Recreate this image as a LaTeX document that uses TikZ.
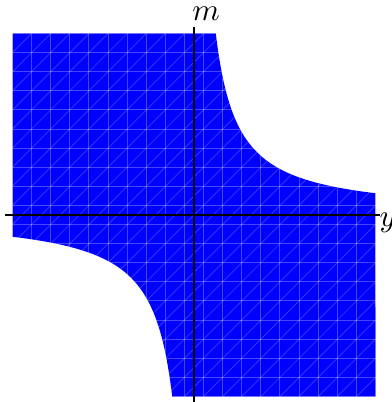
\documentclass[tikz,border=0pt]{standalone}
\begin{document}
\begin{tikzpicture}[x=63.9pt,y=63.9pt,
  meshline/.style={white,opacity=0.27,line width=0.35pt},
  diagline/.style={white,opacity=0.2,line width=0.3pt},
  fineline/.style={white,opacity=0.2,line width=0.3pt},
  axisline/.style={black,line width=0.45pt},
  axlabel/.style={anchor=base,inner sep=0pt,scale=1.1}]
\useasboundingbox (-1.0689,-1.0303) rectangle (1.0909,1.1846);
% filled region
\fill[blue] (-1,1) -- (0.12,1) -- plot[domain=0.12:1,samples=150] (\x,{0.12/\x}) -- (1,-1) -- (-0.12,-1) -- plot[domain=-0.12:-1,samples=150] (\x,{0.12/\x}) -- cycle;
% mesh
\begin{scope}
  \clip (-1,1) -- (0.12,1) -- plot[domain=0.12:1,samples=150] (\x,{0.12/\x}) -- (1,-1) -- (-0.12,-1) -- plot[domain=-0.12:-1,samples=150] (\x,{0.12/\x}) -- cycle;
  \foreach \k in {0,...,19} {
    \draw[meshline] ({-1+\k*2/19},-1) -- ({-1+\k*2/19},1);
    \draw[meshline] (-1,{-1+\k*2/19}) -- (1,{-1+\k*2/19});
  }
  \foreach \k in {-19,...,19}
    \draw[diagline] ({-1+\k*2/19},-1) -- ({1+\k*2/19},1);
  % refinement near the curved boundaries
  \begin{scope}
    \clip (0.12,1) -- plot[domain=0.12:1,samples=100] (\x,{0.12/\x}) -- (1,0.12) -- (1,0.2) -- plot[domain=1:0.2,samples=100] (\x,{0.2/\x}) -- (0.2,1) -- cycle
          (-0.12,-1) -- plot[domain=-0.12:-1,samples=100] (\x,{0.12/\x}) -- (-1,-0.12) -- (-1,-0.2) -- plot[domain=-1:-0.2,samples=100] (\x,{0.2/\x}) -- (-0.2,-1) -- cycle;
    \foreach \k in {0,...,38} {
      \draw[fineline] ({-1+\k/19},-1) -- ({-1+\k/19},1);
      \draw[fineline] (-1,{-1+\k/19}) -- (1,{-1+\k/19});
    }
    \foreach \k in {-38,...,38} {
      \draw[fineline] ({-1+\k/19},-1) -- ({1+\k/19},1);
      \draw[fineline] ({-1+\k/19},1) -- ({1+\k/19},-1);
    }
  \end{scope}
\end{scope}
% axes
\coordinate (vtop) at (0,1.0375);
\coordinate (vbot) at (0,-1.0303);
\coordinate (hleft) at (-1.041,0);
\coordinate (hright) at (1.025,0);
\draw[axisline] (vbot) -- (vtop);
\draw[axisline] (hleft) -- (hright);
\node[axlabel] (mlab) at (0.066,1.07) {$m$};
\node[axlabel] (ylab) at (1.068,-0.066) {$y$};
\end{tikzpicture}
\end{document}
